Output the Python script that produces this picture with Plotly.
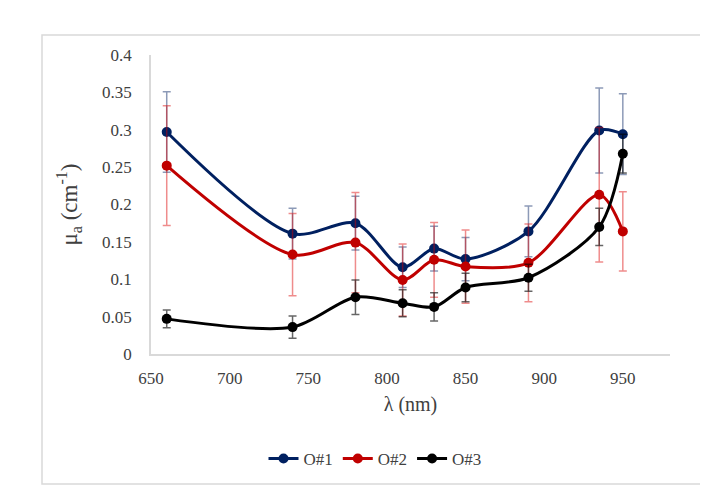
import plotly.graph_objects as go

wavelength = [660, 740, 780, 810, 830, 850, 890, 935, 950]
o1 = [0.297, 0.161, 0.175, 0.116, 0.141, 0.127, 0.164, 0.299, 0.294]
o1_err = [0.054, 0.034, 0.036, 0.027, 0.030, 0.029, 0.034, 0.057, 0.054]
o2 = [0.252, 0.133, 0.149, 0.099, 0.126, 0.117, 0.122, 0.213, 0.164]
o2_err = [0.080, 0.055, 0.067, 0.048, 0.050, 0.049, 0.052, 0.090, 0.053]
o3 = [0.047, 0.036, 0.076, 0.068, 0.063, 0.089, 0.102, 0.170, 0.268]
o3_err = [0.012, 0.015, 0.023, 0.018, 0.019, 0.019, 0.018, 0.025, 0.026]
names = ["O#1", "O#2", "O#3"]
colors = ["#002060", "#C00000", "#000000"]
err_colors = ["rgba(0,32,96,0.45)", "rgba(220,0,0,0.45)", "rgba(0,0,0,0.6)"]

FONT = "Liberation Serif, Times New Roman, serif"
fig = go.Figure()
for y, e, n, c, ec in zip([o1, o2, o3], [o1_err, o2_err, o3_err], names, colors, err_colors):
    fig.add_trace(go.Scatter(
        x=wavelength, y=y, name=n, mode="lines+markers",
        line=dict(color=c, width=3, shape="spline", smoothing=0.85),
        marker=dict(color=c, size=10),
        error_y=dict(type="data", array=e, visible=True, color=ec, thickness=1.5, width=4),
    ))

OFF = 8  # page body margin
W, H = 700, 480
L, R, T, B = 151 - OFF, 38, 55 - OFF, 134
pw, ph = W - L - R, H - T - B
def px(x): return (x - OFF - L) / pw
def py(y): return (H - B - (y - OFF)) / ph

fig.update_layout(
    width=W, height=H,
    margin=dict(l=L, r=R, t=T, b=B, autoexpand=False),
    paper_bgcolor="white", plot_bgcolor="white",
    font=dict(family=FONT, size=17, color="#404040"),
    showlegend=True,
    legend=dict(orientation="h", x=px(375), xanchor="center", y=py(459), yanchor="middle",
                font=dict(size=17, color="#404040"), itemwidth=30, tracegroupgap=0),
    shapes=[dict(type="rect", xref="paper", yref="paper",
                 x0=px(42), x1=px(705), y0=py(484), y1=py(35),
                 line=dict(color="#d9d9d9", width=1.5), layer="below")],
)
fig.update_xaxes(range=[650, 980], tickvals=[650, 700, 750, 800, 850, 900, 950],
                 showgrid=False, zeroline=False, showline=True, linecolor="#d9d9d9", linewidth=1.5,
                 ticks="", ticklabelstandoff=8,
                 title=dict(text="λ (nm)", font=dict(size=20, color="#404040"), standoff=10))
fig.update_yaxes(range=[0, 0.4], dtick=0.05, tick0=0,
                 showgrid=False, zeroline=False, showline=True, linecolor="#d9d9d9", linewidth=1.5,
                 ticks="", ticklabelstandoff=14,
                 title=dict(text="μ<sub>a</sub> (cm<sup>-1</sup>)", font=dict(size=23, color="#404040"), standoff=18))

fig.write_html("out.html")
